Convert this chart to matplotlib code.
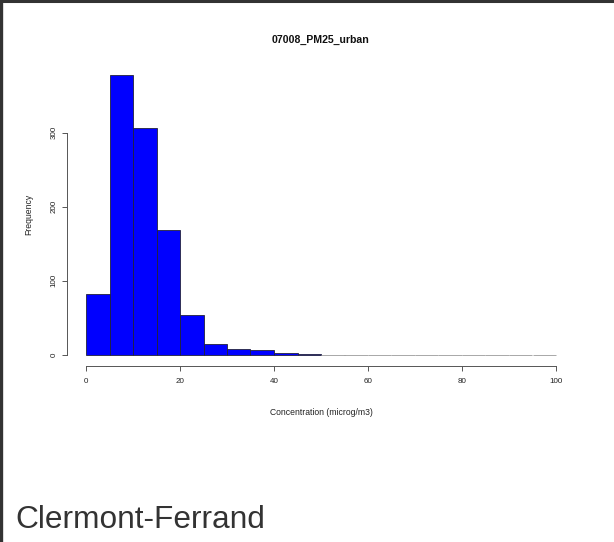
import matplotlib
matplotlib.use("Agg")
import matplotlib.pyplot as plt
from matplotlib.lines import Line2D

plt.rcParams["font.family"] = ["Liberation Sans", "DejaVu Sans"]

# --- Data: PM2.5 concentration histogram, 5 microg/m3 bins ---------------
bin_edges = list(range(0, 105, 5))
counts = [82, 378, 307, 169, 53, 15, 8, 7, 2, 1,
          0, 0, 0, 0, 0, 0, 0, 0, 0, 0]
x_ticks = [0, 20, 40, 60, 80, 100]
y_ticks = [0, 100, 200, 300]
station = "07008_PM25_urban"
city = "Clermont-Ferrand"

W, H = 614, 542
fig = plt.figure(figsize=(W / 100, H / 100), dpi=100)
fig.patch.set_facecolor("white")

# plot region in pixels (R-style 4% padding around the data range)
left, right, top, bottom = 67.2, 574.8, 63.8, 365.9
ax = fig.add_axes([left / W, 1 - bottom / H, (right - left) / W, (bottom - top) / H])

widths = [b - a for a, b in zip(bin_edges[:-1], bin_edges[1:])]
# empty bins collapse to a thin baseline stroke
edges = ["#22223a" if c > 0 else "#9a9a9a" for c in counts]
ax.bar(bin_edges[:-1], counts, width=widths, align="edge",
       color="#0000ff", edgecolor=edges, linewidth=0.6)

span_x = bin_edges[-1] - bin_edges[0]
ax.set_xlim(bin_edges[0] - 0.04 * span_x, bin_edges[-1] + 0.04 * span_x)
ymax = max(counts)
ax.set_ylim(-0.04 * ymax, ymax * 1.04)

for side in ("top", "right"):
    ax.spines[side].set_visible(False)
ax.spines["bottom"].set_bounds(x_ticks[0], x_ticks[-1])
ax.spines["left"].set_bounds(y_ticks[0], y_ticks[-1])
for side in ("bottom", "left"):
    ax.spines[side].set_color("#555555")
    ax.spines[side].set_linewidth(0.7)

ax.set_xticks(x_ticks)
ax.set_yticks(y_ticks)
ax.set_yticklabels([str(v) for v in y_ticks], rotation=90, va="center")
ax.tick_params(axis="both", length=3.6, width=0.7, color="#555555",
               labelsize=5.8, labelcolor="#222222")
ax.tick_params(axis="x", pad=5)
ax.tick_params(axis="y", pad=3.5)

ax.set_xlabel("Concentration (microg/m3)", fontsize=6.2, color="#222222")
ax.set_ylabel("Frequency", fontsize=6.2, color="#222222")
ax.xaxis.set_label_coords(0.5, -0.141)
ax.yaxis.set_label_coords(-0.0674, 0.5)

fig.text((left + right) / 2 / W, 1 - 40 / H, station, ha="center", va="center",
         fontsize=7.6, fontweight="bold", color="#111111")

fig.text(15 / W, 1 - 520 / H, city, ha="left", va="center",
         fontsize=22.8, color="#333333")

# card frame: top and left edges
fig.add_artist(Line2D([0, 1], [1 - 1.2 / H, 1 - 1.2 / H], transform=fig.transFigure,
                      color="#333333", linewidth=2.2))
fig.add_artist(Line2D([1.5 / W, 1.5 / W], [0, 1], transform=fig.transFigure,
                      color="#333333", linewidth=2.4))

fig.savefig("out.png", dpi=100, facecolor="white")
